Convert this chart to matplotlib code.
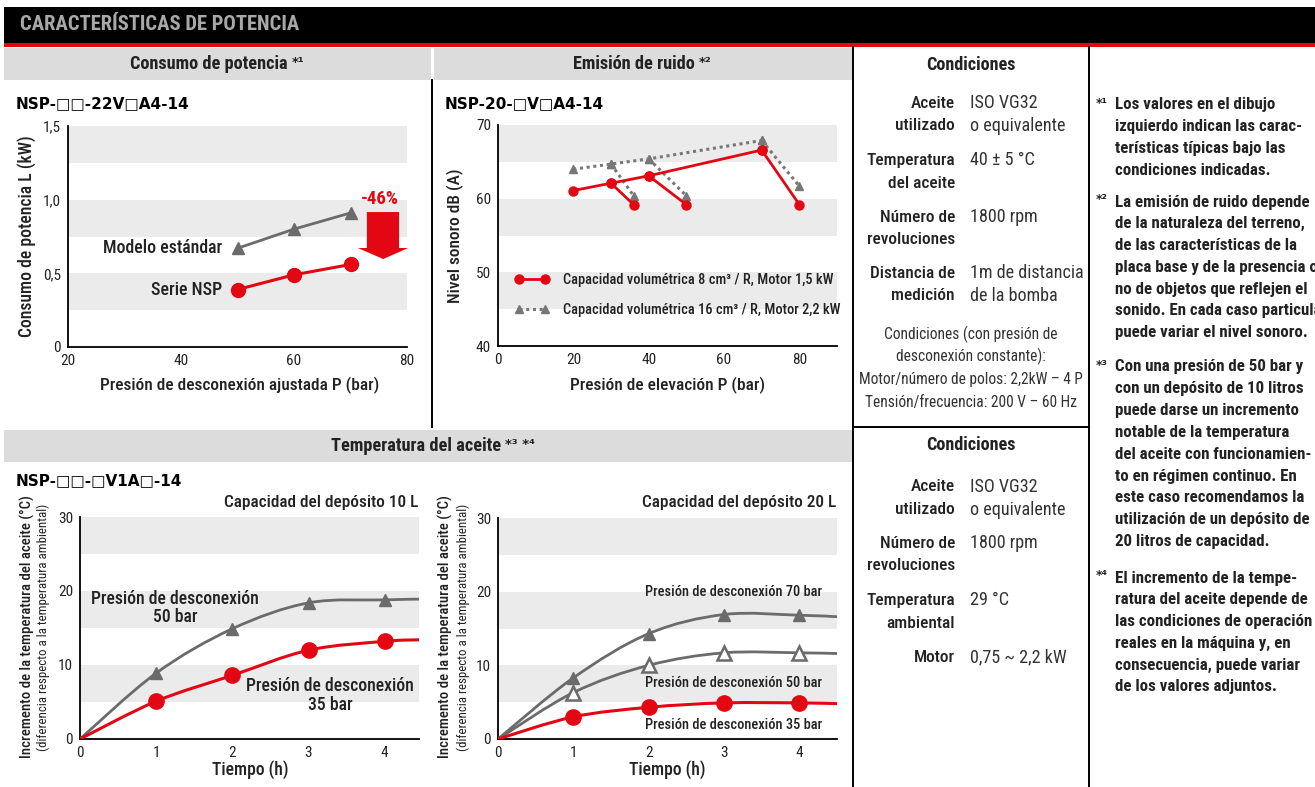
import os
import numpy as np
import matplotlib
matplotlib.use("Agg")
import matplotlib.pyplot as plt
import matplotlib.font_manager as fm
from matplotlib.font_manager import FontProperties
from matplotlib.textpath import TextPath
from matplotlib.patches import Rectangle, Polygon, PathPatch
from matplotlib.path import Path
from matplotlib.lines import Line2D
from matplotlib.text import Annotation

RED = '#e30613'
GREY = '#6b6b6b'
BAND = '#ebebeb'
HEAD = '#dcdcdc'
INK = '#222222'

# ---- data: power consumption ----
p_set = [50, 60, 70]
kw_standard = [0.67, 0.80, 0.91]
kw_nsp = [0.39, 0.49, 0.56]

# ---- data: noise ----
noise_p = [20, 30, 40, 70]
noise_8cc = [61.1, 62.1, 63.1, 66.6]
noise_16cc = [64.0, 64.7, 65.4, 67.9]
drop_from = [1, 2, 3]            # index in noise_p where each drop starts
drop_p = [36, 50, 80]
drop_8cc = [59.2, 59.2, 59.2]
drop_16cc = [60.4, 60.4, 61.7]

# ---- data: oil temperature rise ----
hours = [0, 1, 2, 3, 4, 4.45]    # last value = right edge of the plot
t10_50bar = [0, 8.9, 14.9, 18.4, 18.8, 18.9]
t10_35bar = [0, 5.1, 8.6, 12.0, 13.2, 13.4]
hours20 = [0, 1, 2, 3, 4, 4.5]
t20_70bar = [0, 8.3, 14.3, 16.9, 16.8, 16.6]
t20_50bar = [0, 6.3, 10.0, 11.7, 11.7, 11.6]
t20_35bar = [0, 3.0, 4.3, 4.9, 4.9, 4.8]


# ---- pick a condensed sans if one is installed ----
def weight_of(name):
    for w in ['extrabold', 'semibold', 'bold', 'black', 'extralight', 'light', 'thin', 'medium']:
        if w in name:
            return w
    return 'regular'


FILES = sorted({f.fname for f in fm.fontManager.ttflist})


def family_files(prefix):
    found = {}
    for fn in FILES:
        b = os.path.basename(fn).lower().replace(' ', '')
        if not b.startswith(prefix) or 'italic' in b or 'oblique' in b:
            continue
        found.setdefault(weight_of(b[len(prefix):]), fn)
    return found


cond = None
for p in ['notosans-condensed', 'notosanscondensed', 'liberationsansnarrow',
          'opensans-condensed', 'roboto-condensed', 'robotocondensed', 'dejavusanscondensed']:
    cond = family_files(p)
    if 'regular' in cond:
        break
if not cond or 'regular' not in cond:
    cond = {'regular': fm.findfont(FontProperties(family='Roboto')),
            'bold': fm.findfont(FontProperties(family='Roboto', weight='bold'))}
xcond = family_files('notosans-extracondensed')

REG = cond['regular']
BOLD = cond.get('semibold', cond.get('bold', REG))
SEMI = cond.get('medium', REG)
HEAVY = xcond.get('black', xcond.get('extrabold', cond.get('black', cond.get('bold', BOLD))))
DJB = fm.findfont(FontProperties(family='DejaVu Sans', weight='bold'))
PATHS = {'reg': REG, 'bold': BOLD, 'semi': SEMI, 'heavy': HEAVY, 'djb': DJB}


def fit(kind, s, px):
    # font size (pt) that makes string s about px pixels wide, as in the reference
    w = TextPath((0, 0), s, size=10, prop=FontProperties(fname=PATHS[kind])).get_extents().width
    return 10 * px * 0.72 / w


def F(kind, size):
    return FontProperties(fname=PATHS[kind], size=size)


S_AXIS = fit('semi', 'Presión de desconexión ajustada P (bar)', 279)
S_NOTE = fit('bold', 'izquierdo indican las carac-', 186)
S_COND_L = fit('semi', 'revoluciones', 87)
S_COND_V = fit('reg', 'o equivalente', 94)
S_HEADER = fit('bold', 'Consumo de potencia', 156)
S_TICK = min(S_COND_V, 11)

W, H = 1315, 787
fig = plt.figure(figsize=(W / 100, H / 100), dpi=100)


def fx(px):
    return px / W


def fy(py):
    return 1 - py / H


def axes_px(x0, y0, x1, y1):
    return fig.add_axes([fx(x0), fy(y1), (x1 - x0) / W, (y1 - y0) / H])


def rect(x0, y0, x1, y1, color):
    fig.patches.append(Rectangle((fx(x0), fy(y1)), (x1 - x0) / W, (y1 - y0) / H,
                                 transform=fig.transFigure, facecolor=color,
                                 edgecolor='none', zorder=0))


def line(x0, y0, x1, y1, lw=1.4):
    fig.add_artist(Line2D([fx(x0), fx(x1)], [fy(y0), fy(y1)], color='black', lw=lw))


def txt(x, y, s, kind='reg', size=11, **kw):
    kw.setdefault('va', 'center')
    kw.setdefault('color', INK)
    return fig.text(fx(x), fy(y), s, fontproperties=F(kind, size), **kw)


def sup(anchor, s, size=9.5):
    fig.add_artist(Annotation(s, xy=(1, 0.6), xycoords=anchor, xytext=(3, 0),
                              textcoords='offset points', va='center', ha='left',
                              fontproperties=F('djb', size), color=INK))


def style(ax, xlim, ylim, xticks, yticks, xlabels, ylabels, bands):
    ax.set_xlim(*xlim)
    ax.set_ylim(*ylim)
    for lo, hi in bands:
        ax.axhspan(lo, hi, color=BAND, lw=0, zorder=0)
    for s in ['top', 'right']:
        ax.spines[s].set_visible(False)
    for s in ['left', 'bottom']:
        ax.spines[s].set_linewidth(1.3)
    ax.set_xticks(xticks, xlabels)
    ax.set_yticks(yticks, ylabels)
    ax.tick_params(length=0, pad=5, labelcolor=INK)
    for lab in ax.get_xticklabels() + ax.get_yticklabels():
        lab.set_fontproperties(F('reg', S_TICK))
    ax.set_facecolor('none')


def smooth(ax, x, y, color, lw):
    pts = np.column_stack([x, y]).astype(float)
    verts, codes = [pts[0]], [Path.MOVETO]
    n = len(pts)
    for i in range(n - 1):
        p0, p1 = pts[max(i - 1, 0)], pts[i]
        p2, p3 = pts[i + 1], pts[min(i + 2, n - 1)]
        verts += [p1 + (p2 - p0) / 6, p2 - (p3 - p1) / 6, p2]
        codes += [Path.CURVE4] * 3
    ax.add_patch(PathPatch(Path(verts, codes), fill=False, edgecolor=color,
                           lw=lw, zorder=3, capstyle='round'))


# ---- page frame ----
rect(4, 7, W, 43, 'black')
rect(4, 43, W, 47, RED)
rect(4, 48, 431, 80, HEAD)
rect(434, 48, 852, 80, HEAD)
rect(4, 430, 852, 462, HEAD)
line(432, 80, 432, 427)
line(853, 47, 853, H)
line(1089, 47, 1089, H)
line(853, 427, 1089, 427)

title = 'CARACTERÍSTICAS DE POTENCIA'
txt(20, 25, title, 'heavy', fit('heavy', title, 280), color='#a8a8a8', ha='left')
sup(txt(209, 64, 'Consumo de potencia', 'bold', S_HEADER, ha='center'), '*¹')
sup(txt(634, 64, 'Emisión de ruido', 'bold', S_HEADER, ha='center'), '*²')
sup(txt(416, 446, 'Temperatura del aceite', 'bold', S_HEADER, ha='center'), '*³ *⁴')

# ---- power consumption chart ----
ax1 = axes_px(68, 126, 407, 347)
style(ax1, (20, 80), (0, 1.5), [20, 40, 60, 80], [0, 0.5, 1.0, 1.5],
      ['20', '40', '60', '80'], ['0', '0,5', '1,0', '1,5'],
      [(0.25, 0.5), (0.75, 1.0), (1.25, 1.5)])
ax1.plot(p_set, kw_standard, color=GREY, lw=2.0, marker='^', ms=9, zorder=3)
ax1.plot(p_set, kw_nsp, color=RED, lw=2.2, marker='o', ms=10, zorder=3)
s_lab = fit('semi', 'Modelo estándar', 118)
ax1.annotate('Modelo estándar', (p_set[0], kw_standard[0]), xytext=(-11, 0),
             textcoords='offset points', ha='right', va='center',
             fontproperties=F('semi', s_lab), color=INK)
ax1.annotate('Serie NSP', (p_set[0], kw_nsp[0]), xytext=(-11, 0),
             textcoords='offset points', ha='right', va='center',
             fontproperties=F('semi', s_lab), color=INK)
ax1.add_patch(Polygon([(72.9, 0.916), (78.6, 0.916), (78.6, 0.672), (80.2, 0.672),
                       (75.8, 0.597), (71.3, 0.672), (72.9, 0.672)],
                      closed=True, facecolor=RED, edgecolor='none', clip_on=False, zorder=3))
txt(380, 199, '-46%', 'bold', fit('bold', '-46%', 36), color=RED, ha='center')
txt(16, 104, 'NSP-□□-22V□A4-14', 'djb', 11, ha='left', color='black')
txt(27, 236, 'Consumo de potencia L (kW)', 'semi',
    fit('semi', 'Consumo de potencia L (kW)', 200), rotation=90, ha='center')
txt(240, 385, 'Presión de desconexión ajustada P (bar)', 'semi', S_AXIS, ha='center')

# ---- noise chart ----
ax2 = axes_px(498, 125, 837, 346)
style(ax2, (0, 90), (40, 70), [0, 20, 40, 60, 80], [40, 50, 60, 70],
      ['0', '20', '40', '60', '80'], ['40', '50', '60', '70'],
      [(45, 50), (55, 60), (65, 70)])
dot = (0, (1, 1.2))
for i, k in enumerate(drop_from):
    ax2.plot([noise_p[k], drop_p[i]], [noise_16cc[k], drop_16cc[i]], color='#777777',
             lw=2.2, ls=dot, marker='^', ms=6, zorder=3)
    ax2.plot([noise_p[k], drop_p[i]], [noise_8cc[k], drop_8cc[i]], color=RED,
             lw=2.0, marker='o', ms=6.5, zorder=4)
lab16 = 'Capacidad volumétrica 16 cm³ / R, Motor 2,2 kW'
lab8 = 'Capacidad volumétrica 8 cm³ / R, Motor 1,5 kW'
ax2.plot(noise_p, noise_16cc, color='#777777', lw=2.2, ls=dot, marker='^', ms=6,
         zorder=3, label=lab16)
ax2.plot(noise_p, noise_8cc, color=RED, lw=2.0, marker='o', ms=6.5, zorder=4, label=lab8)
h, l = ax2.get_legend_handles_labels()
ax2.legend(h[::-1], l[::-1], loc='center left', bbox_to_anchor=(0.01, 0.23),
           frameon=False, numpoints=2, handlelength=2.4, handletextpad=1.0,
           labelspacing=1.1, prop=F('semi', fit('semi', lab8, 269)), labelcolor=INK)
txt(445, 104, 'NSP-20-□V□A4-14', 'djb', 11, ha='left', color='black')
txt(455, 236, 'Nivel sonoro dB (A)', 'semi', fit('semi', 'Nivel sonoro dB (A)', 133),
    rotation=90, ha='center')
txt(668, 385, 'Presión de elevación P (bar)', 'semi',
    fit('semi', 'Presión de elevación P (bar)', 193), ha='center')

# ---- oil temperature, 10 L ----
bands_t = [(5, 10), (15, 20), (25, 30)]
ylab_main = 'Incremento de la temperatura del aceite (°C)'
ylab_sub = '(diferencia respecto a la temperatura ambiental)'
s_main = fit('semi', ylab_main, 261)
s_sub = fit('reg', ylab_sub, 245)
s_cap = fit('semi', 'Capacidad del depósito 10 L', 193)
s_time = fit('semi', 'Tiempo (h)', 75)
s_press = fit('semi', 'Presión de desconexión', 166)

ax3 = axes_px(80, 517, 419, 739)
style(ax3, (0, 4.45), (0, 30), [0, 1, 2, 3, 4], [0, 10, 20, 30],
      ['0', '1', '2', '3', '4'], ['0', '10', '20', '30'], bands_t)
smooth(ax3, hours, t10_50bar, GREY, 2.0)
smooth(ax3, hours, t10_35bar, RED, 2.2)
ax3.plot(hours[1:5], t10_50bar[1:5], ls='none', marker='^', ms=8.5, color=GREY, zorder=4)
ax3.plot(hours[1:5], t10_35bar[1:5], ls='none', marker='o', ms=11, color=RED, zorder=4)
ax3.text(1.25, 17.7, 'Presión de desconexión\n50 bar', ha='center', va='center',
         fontproperties=F('semi', s_press), color=INK, linespacing=1.05)
ax3.text(3.28, 5.9, 'Presión de desconexión\n35 bar', ha='center', va='center',
         fontproperties=F('semi', s_press), color=INK, linespacing=1.05)
txt(16, 481, 'NSP-□□-□V1A□-14', 'djb', 11, ha='left', color='black')
txt(418, 502, 'Capacidad del depósito 10 L', 'semi', s_cap, ha='right')
txt(27, 627, ylab_main, 'semi', s_main, rotation=90, ha='center')
txt(43, 627, ylab_sub, 'reg', s_sub, rotation=90, ha='center')
txt(250, 770, 'Tiempo (h)', 'semi', s_time, ha='center')

# ---- oil temperature, 20 L ----
ax4 = axes_px(498, 518, 837, 739)
style(ax4, (0, 4.5), (0, 30), [0, 1, 2, 3, 4], [0, 10, 20, 30],
      ['0', '1', '2', '3', '4'], ['0', '10', '20', '30'], bands_t)
smooth(ax4, hours20, t20_70bar, GREY, 2.0)
smooth(ax4, hours20, t20_50bar, GREY, 2.0)
smooth(ax4, hours20, t20_35bar, RED, 2.2)
ax4.plot(hours20[1:5], t20_70bar[1:5], ls='none', marker='^', ms=8.5, color=GREY, zorder=4)
ax4.plot(hours20[1:5], t20_50bar[1:5], ls='none', marker='^', ms=10.5, mfc='white',
         mec=GREY, mew=1.8, zorder=4)
ax4.plot(hours20[1:5], t20_35bar[1:5], ls='none', marker='o', ms=11, color=RED, zorder=4)
s_small = fit('semi', 'Presión de desconexión 70 bar', 175)
for yv, s in [(19.9, '70'), (7.6, '50'), (1.9, '35')]:
    ax4.text(4.30, yv, f'Presión de desconexión {s} bar', ha='right', va='center',
             fontproperties=F('semi', s_small), color=INK)
txt(836, 502, 'Capacidad del depósito 20 L', 'semi', s_cap, ha='right')
txt(445, 627, ylab_main, 'semi', s_main, rotation=90, ha='center')
txt(463, 627, ylab_sub, 'reg', s_sub, rotation=90, ha='center')
txt(667, 770, 'Tiempo (h)', 'semi', s_time, ha='center')

# ---- conditions ----
cond_noise_labels = [['Aceite', 'utilizado'], ['Temperatura', 'del aceite'],
                     ['Número de', 'revoluciones'], ['Distancia de', 'medición']]
cond_noise_values = [['ISO VG32', 'o equivalente'], ['40 ± 5 °C'],
                     ['1800 rpm'], ['1m de distancia', 'de la bomba']]
cond_noise_rows = [103, 160, 217, 273]
cond_noise_note = ['Condiciones (con presión de', 'desconexión constante):',
                   'Motor/número de polos: 2,2kW – 4 P', 'Tensión/frecuencia: 200 V – 60 Hz']

cond_temp_labels = [['Aceite', 'utilizado'], ['Número de', 'revoluciones'],
                    ['Temperatura', 'ambiental'], ['Motor']]
cond_temp_values = [['ISO VG32', 'o equivalente'], ['1800 rpm'], ['29 °C'], ['0,75 ~ 2,2 kW']]
cond_temp_rows = [487, 543, 600, 657]

DY = 23
s_cond_head = fit('bold', 'Condiciones', 88)


def cond_block(y_head, labels, values, rows):
    txt(971, y_head, 'Condiciones', 'bold', s_cond_head, ha='center')
    for lab, val, y0 in zip(labels, values, rows):
        for j, s in enumerate(lab):
            txt(955, y0 + j * DY, s, 'semi', S_COND_L, ha='right')
        for j, s in enumerate(val):
            txt(970, y0 + j * DY, s, 'reg', S_COND_V, ha='left', color='#333333')


cond_block(65, cond_noise_labels, cond_noise_values, cond_noise_rows)
s_note = fit('reg', cond_noise_note[2], 224)
for j, s in enumerate(cond_noise_note):
    txt(971, 334 + j * 22.7, s, 'reg', s_note, ha='center', color='#333333')
cond_block(445, cond_temp_labels, cond_temp_values, cond_temp_rows)

# ---- footnotes ----
notes = [
    ('*¹', 105, ['Los valores en el dibujo', 'izquierdo indican las carac-',
                 'terísticas típicas bajo las', 'condiciones indicadas.']),
    ('*²', 202, ['La emisión de ruido depende', 'de la naturaleza del terreno,',
                 'de las características de la', 'placa base y de la presencia o',
                 'no de objetos que reflejen el', 'sonido. En cada caso particular',
                 'puede variar el nivel sonoro.']),
    ('*³', 367, ['Con una presión de 50 bar y', 'con un depósito de 10 litros',
                 'puede darse un incremento', 'notable de la temperatura',
                 'del aceite con funcionamien-', 'to en régimen continuo. En',
                 'este caso recomendamos la', 'utilización de un depósito de',
                 '20 litros de capacidad.']),
    ('*⁴', 578, ['El incremento de la tempe-', 'ratura del aceite depende de',
                 'las condiciones de operación', 'reales en la máquina y, en',
                 'consecuencia, puede variar', 'de los valores adjuntos.']),
]
for mark, y0, lines in notes:
    txt(1096, y0 - 2, mark, 'djb', 9, ha='left')
    for j, s in enumerate(lines):
        txt(1115, y0 + j * 21.8, s, 'bold', S_NOTE, ha='left')

fig.savefig('out.png', dpi=100)
